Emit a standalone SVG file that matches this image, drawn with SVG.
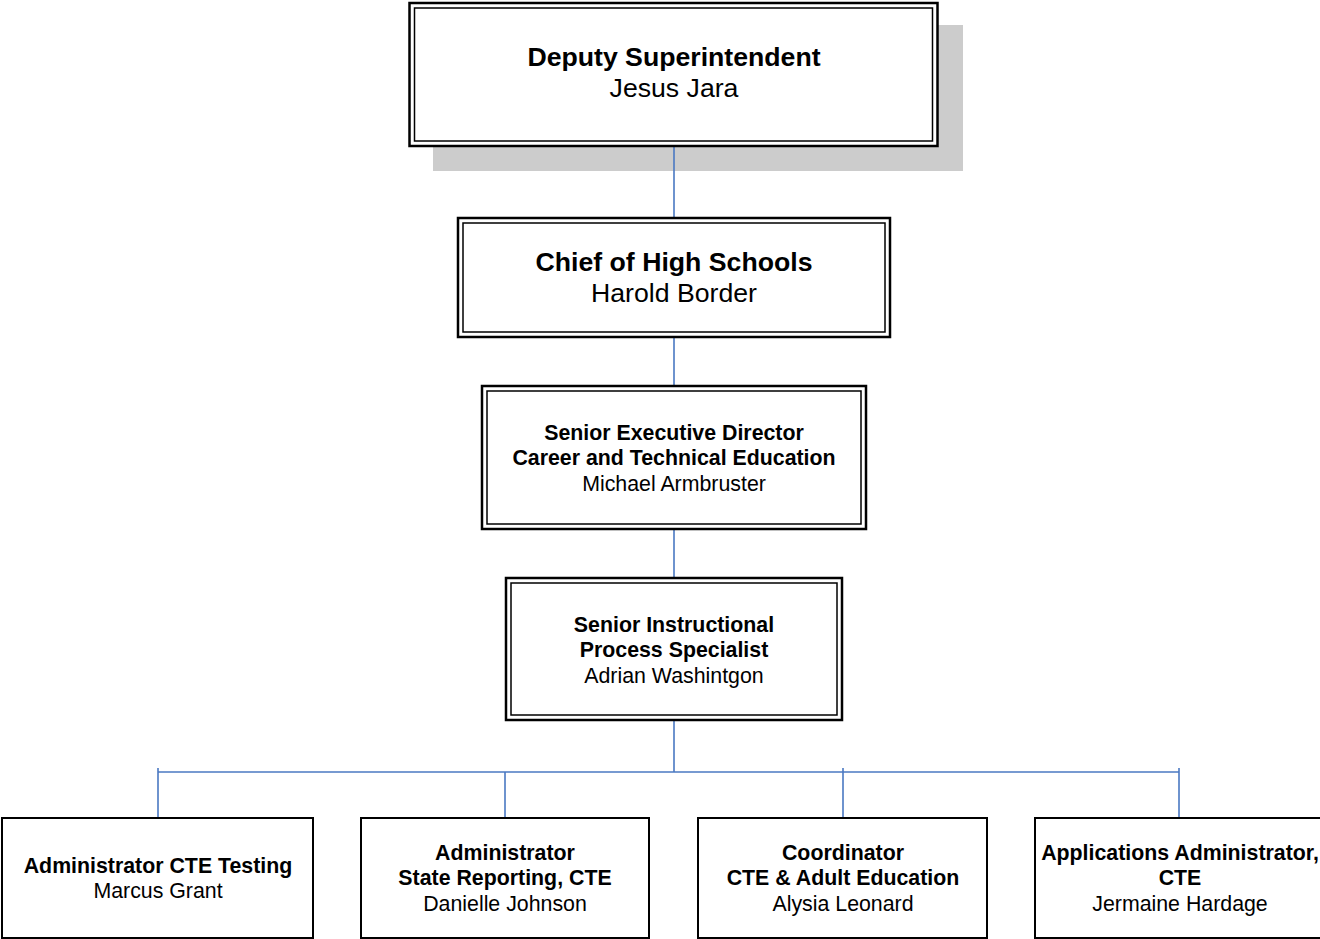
<svg xmlns="http://www.w3.org/2000/svg" width="1320" height="939" viewBox="0 0 1320 939">
<style>
.bg{fill:#ffffff}
.out{fill:#ffffff;stroke:#000;stroke-width:2.5}
.in{fill:none;stroke:#000;stroke-width:1.5}
.single{fill:#ffffff;stroke:#000;stroke-width:2}
.shadow{fill:#cccccc}
.conn{fill:none;stroke:#4a78c2;stroke-width:1.6}
text{font-family:"Liberation Sans",Arial,sans-serif;fill:#000;text-anchor:middle}
.b20{font-size:26.67px;font-weight:bold}
.r20{font-size:26.67px}
.b16{font-size:21.33px;font-weight:bold}
.r16{font-size:21.33px}
</style>
<rect class="bg" x="0" y="0" width="1320" height="939"/>
<rect id="deputy-shadow" class="shadow" x="433" y="25" width="530" height="146"/>
<g id="connectors">
<line class="conn" x1="674" y1="146" x2="674" y2="218"/>
<line class="conn" x1="674" y1="337" x2="674" y2="385"/>
<line class="conn" x1="674" y1="529" x2="674" y2="577"/>
<line class="conn" x1="674" y1="720" x2="674" y2="772"/>
<line class="conn" x1="158" y1="772" x2="1179" y2="772"/>
<line class="conn" x1="158" y1="768" x2="158" y2="818"/>
<line class="conn" x1="505" y1="772" x2="505" y2="818"/>
<line class="conn" x1="843" y1="768" x2="843" y2="818"/>
<line class="conn" x1="1179" y1="768" x2="1179" y2="818"/>
</g>
<g id="deputy">
<rect class="out" x="409.5" y="3" width="528" height="143"/>
<rect class="in" x="414.5" y="8" width="518" height="133"/>
<text class="b20" x="674" y="66">Deputy Superintendent</text>
<text class="r20" x="674" y="97">Jesus Jara</text>
</g>
<g id="chief">
<rect class="out" x="458" y="218" width="432" height="119"/>
<rect class="in" x="463" y="223" width="422" height="109"/>
<text class="b20" x="674" y="271">Chief of High Schools</text>
<text class="r20" x="674" y="302">Harold Border</text>
</g>
<g id="senior-exec">
<rect class="out" x="482" y="386" width="384" height="143"/>
<rect class="in" x="487" y="391" width="374" height="133"/>
<text class="b16" x="674" y="440">Senior Executive Director</text>
<text class="b16" x="674" y="465">Career and Technical Education</text>
<text class="r16" x="674" y="491">Michael Armbruster</text>
</g>
<g id="senior-instr">
<rect class="out" x="506" y="578" width="336" height="142"/>
<rect class="in" x="511" y="583" width="326" height="132"/>
<text class="b16" x="674" y="632">Senior Instructional</text>
<text class="b16" x="674" y="657">Process Specialist</text>
<text class="r16" x="674" y="683">Adrian Washintgon</text>
</g>
<g id="cte-testing">
<rect class="single" x="2" y="818" width="311" height="120"/>
<text class="b16" x="158" y="873">Administrator CTE Testing</text>
<text class="r16" x="158" y="898">Marcus Grant</text>
</g>
<g id="state-reporting">
<rect class="single" x="361" y="818" width="288" height="120"/>
<text class="b16" x="505" y="860">Administrator</text>
<text class="b16" x="505" y="885">State Reporting, CTE</text>
<text class="r16" x="505" y="911">Danielle Johnson</text>
</g>
<g id="coordinator">
<rect class="single" x="698" y="818" width="289" height="120"/>
<text class="b16" x="843" y="860">Coordinator</text>
<text class="b16" x="843" y="885">CTE &amp; Adult Education</text>
<text class="r16" x="843" y="911">Alysia Leonard</text>
</g>
<g id="applications">
<rect class="single" x="1035" y="818" width="290" height="120"/>
<text class="b16" x="1180" y="860">Applications Administrator,</text>
<text class="b16" x="1180" y="885">CTE</text>
<text class="r16" x="1180" y="911">Jermaine Hardage</text>
</g>
</svg>
